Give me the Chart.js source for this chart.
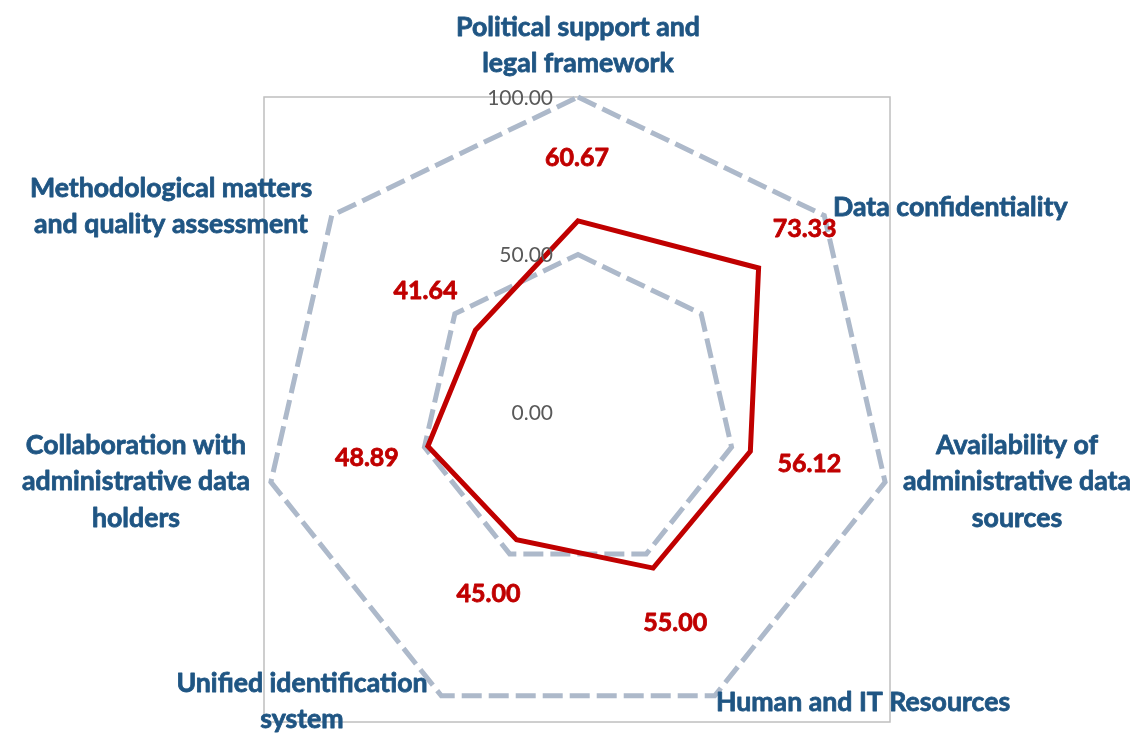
<!DOCTYPE html>
<html>
<head>
<meta charset="utf-8">
<script src="https://cdn.jsdelivr.net/npm/chart.js@4/dist/chart.umd.min.js"></script>
<style>
  html, body { margin: 0; padding: 0; background: #ffffff; }
  #wrap { width: 1145px; height: 735px; position: relative; }
</style>
</head>
<body>
<div id="wrap"><canvas id="c" width="1145" height="735"></canvas></div>
<script>
// ---- data ----
const categories = [
  ["Political support and", "legal framework"],
  ["Data confidentiality"],
  ["Availability of", "administrative data", "sources"],
  ["Human and IT Resources"],
  ["Unified identification", "system"],
  ["Collaboration with", "administrative data", "holders"],
  ["Methodological matters", "and quality assessment"]
];
const scores = [60.67, 73.33, 56.12, 55.00, 45.00, 48.89, 41.64];
const tickValues = [0, 50, 100];
const tickLabels = ["0.00", "50.00", "100.00"];

// ---- layout / style (not data) ----
const valueLabelOffsets = [[-1,-63],[46,-39],[59,13],[22,55],[-28,54],[-61,12],[-50,-39]];
const catAnchors = [
  {dx: 0,    dy: -385, align: 'center'},
  {dx: 255,  dy: -205, align: 'left'},
  {dx: 439,  dy: 33,   align: 'center'},
  {dx: 285,  dy: 290,  align: 'center'},
  {dx: -276, dy: 271,  align: 'center'},
  {dx: -442, dy: 33,   align: 'center'},
  {dx: -407, dy: -224, align: 'center'}
];
const LINE_H = 36.5;
const BLUE = '#1f5583';
const RED = '#c00000';
const GRID = '#adb9ca';
const FAMILY = 'Lato';

function fitSize(ctx, weight, sample, target) {
  ctx.font = weight + ' 100px ' + FAMILY;
  const w = ctx.measureText(sample).width;
  return Math.round(100 * target / w * 10) / 10;
}
function boldText(ctx, t, x, y, color) {
  ctx.fillStyle = color;
  ctx.strokeStyle = color;
  ctx.lineWidth = 0.8;
  ctx.lineJoin = 'round';
  ctx.strokeText(t, x, y);
  ctx.fillText(t, x, y);
}

const overlay = {
  id: 'overlay',
  beforeDraw(chart) {
    const ctx = chart.ctx;
    const r = chart.scales.r;
    const R = r.drawingArea;
    ctx.save();
    ctx.strokeStyle = '#bfbfbf';
    ctx.lineWidth = 1.5;
    ctx.strokeRect(r.xCenter - 314, r.yCenter - R, 626, R + 310);
    ctx.restore();
  },
  afterDatasetsDraw(chart) {
    const ctx = chart.ctx;
    const r = chart.scales.r;
    ctx.save();
    ctx.textBaseline = 'middle';
    // tick labels
    const tSize = fitSize(ctx, '400', '100.00', 66);
    ctx.font = '400 ' + tSize + 'px ' + FAMILY;
    ctx.fillStyle = '#595959';
    ctx.textAlign = 'right';
    tickValues.forEach((v, i) => {
      const d = r.getDistanceFromCenterForValue(v);
      ctx.fillText(tickLabels[i], r.xCenter - 25, r.yCenter - d + 1);
    });
    // value labels
    const vSize = fitSize(ctx, '700', '45.00', 64);
    ctx.font = '700 ' + vSize + 'px ' + FAMILY;
    ctx.textAlign = 'center';
    const meta = chart.getDatasetMeta(0);
    meta.data.forEach((pt, i) => {
      const o = valueLabelOffsets[i];
      boldText(ctx, scores[i].toFixed(2), pt.x + o[0], pt.y + o[1], RED);
    });
    // category labels
    const cSize = fitSize(ctx, '700', 'Human and IT Resources', 294);
    ctx.font = '700 ' + cSize + 'px ' + FAMILY;
    categories.forEach((lines, i) => {
      const a = catAnchors[i];
      ctx.textAlign = a.align;
      lines.forEach((t, j) => {
        boldText(ctx, t, r.xCenter + a.dx, r.yCenter + a.dy + j * LINE_H, BLUE);
      });
    });
    ctx.restore();
  }
};

new Chart(document.getElementById('c'), {
  type: 'radar',
  data: {
    labels: categories,
    datasets: [{
      data: scores,
      borderColor: RED,
      borderWidth: 5,
      fill: false,
      pointRadius: 0,
      pointHoverRadius: 0,
      tension: 0,
      borderJoinStyle: 'miter'
    }]
  },
  options: {
    responsive: false,
    devicePixelRatio: 1,
    animation: false,
    layout: { padding: { left: 263, top: 97, right: 252, bottom: 8 } },
    plugins: { legend: { display: false }, tooltip: { enabled: false } },
    scales: {
      r: {
        min: 0,
        max: 100,
        ticks: { display: false, stepSize: 50 },
        angleLines: { display: false },
        pointLabels: { display: false },
        grid: { color: GRID, lineWidth: 5 },
        border: { dash: [20, 7] }
      }
    }
  },
  plugins: [overlay]
});
</script>
</body>
</html>
